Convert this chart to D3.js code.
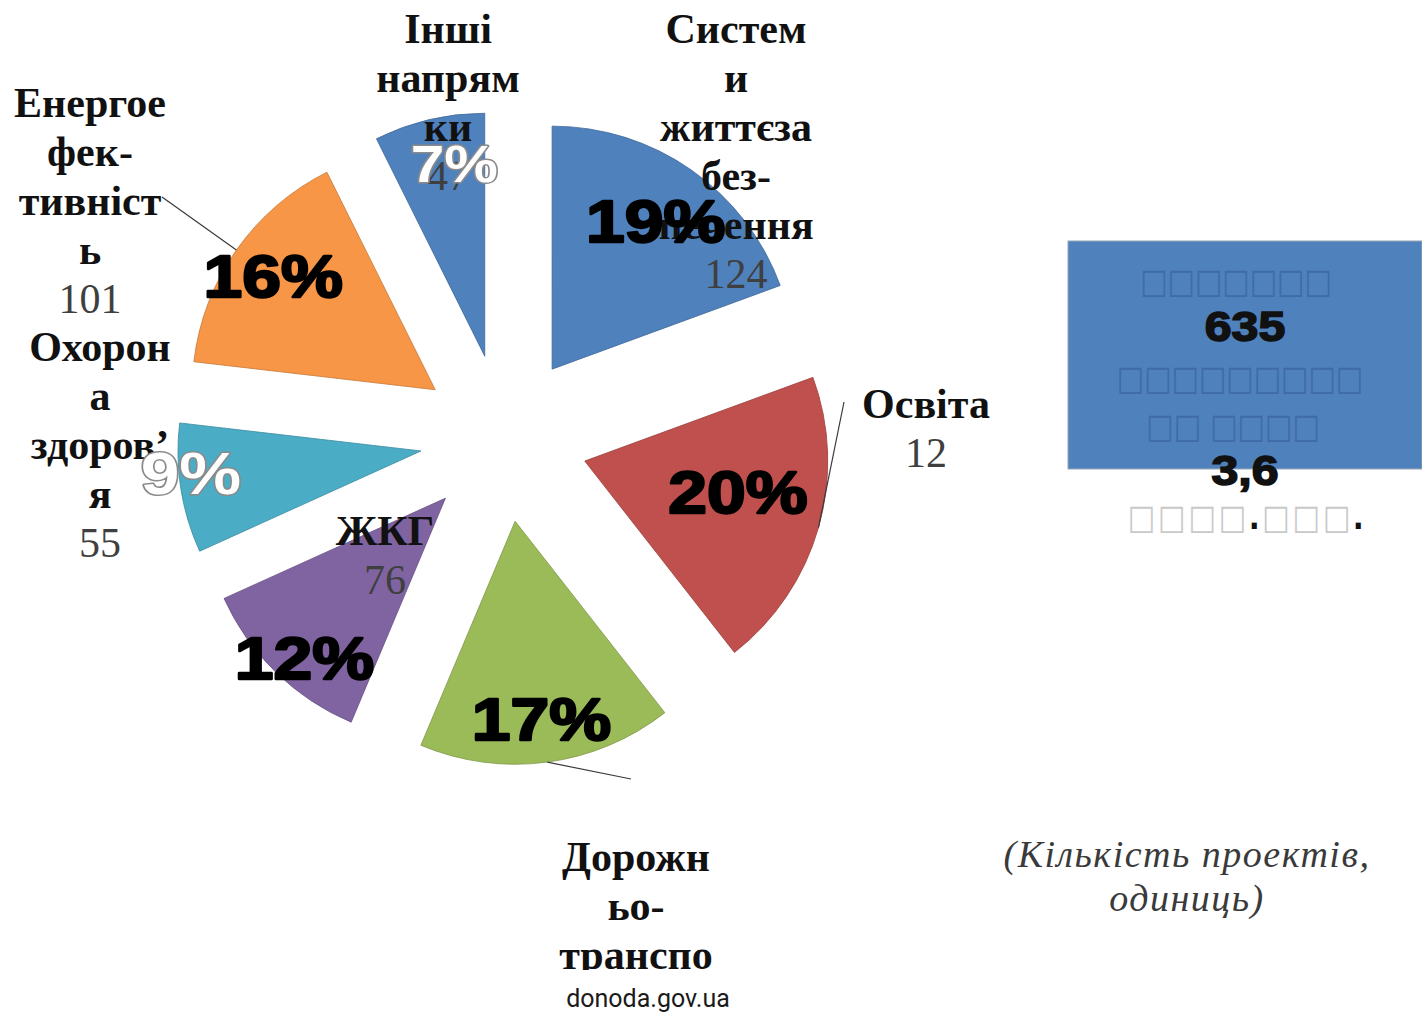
<!DOCTYPE html>
<html>
<head>
<meta charset="utf-8">
<script src="https://cdn.jsdelivr.net/npm/d3@7"></script>
<style>
  html, body { margin: 0; padding: 0; background: #fff; }
  svg { display: block; }
</style>
</head>
<body>
<svg id="chart" width="1422" height="1016"></svg>
<script>
// ---------------- DATA ----------------
const categories = ["Системи життєзабезпечення", "Освіта", "Дорожньо-транспортна", "ЖКГ", "Охорона здоров’я", "Енергоефективність", "Інші напрямки"];
const values = [124, 128, 108, 76, 55, 101, 47];
// category labels as they are wrapped (and truncated) in the source picture
const labelLines = [
  ["Систем", "и", "життєза", "без-", "печення"],
  ["Освіта"],
  ["Дорожн", "ьо-", "транспо"],
  ["ЖКГ"],
  ["Охорон", "а", "здоров’", "я"],
  ["Енергое", "фек-", "тивніст", "ь"],
  ["Інші", "напрям", "ки"]
];
// value texts as shown (the Освіта value is cut to "12" in the source)
const valueLabels = ["124", "12", "", "76", "55", "101", "47"];
const colors = ["#4f81bd", "#c0504d", "#9bbb59", "#8064a2", "#4bacc6", "#f79646", "#4f81bd"];
const boxTofu = ["□□□□□□□", "□□□□□□□□□", "□□ □□□□", "□□□□", "□□□"];
const totalProjects = "635";
const totalSum = "3,6";
const noteLines = ["(Кількість проектів,", "одиниць)"];
const sourceText = "donoda.gov.ua";

// ---------------- LAYOUT ----------------
const cx = 504, cy = 438, R = 243, explode = 84;
const lineH = 49;
const labelPos = [
  {x: 736, y: 43}, {x: 926, y: 418}, {x: 636, y: 871}, {x: 385, y: 545},
  {x: 100, y: 361}, {x: 90, y: 117}, {x: 448, y: 43}
];
const pctRadius = [265, 240, 283, 297, 315, 282, 279];
const pctAngleAdj = [0, -3, 0, -2, 2.5, 0, 3]; // degrees
const pctSize = [60, 60, 60, 60, 60, 60, 52];
const pctFill = ["#000", "#000", "#000", "#000", "#fff", "#000", "#fff"];
const leaderEnds = {1: [844, 402], 2: [631, 779], 5: [162, 197]};

const svg = d3.select("#chart");
const rad = a => a * Math.PI / 180;
const polar = (a, r) => [Math.sin(a) * r, -Math.cos(a) * r];

const pie = d3.pie().sort(null).value(d => d)(values);
const arc = d3.arc().innerRadius(0).outerRadius(R);
const total = d3.sum(values);
const fmtPct = d3.format(".0%");

const defs = svg.append("defs");
defs.append("clipPath").attr("id", "plotClip")
  .append("rect").attr("x", 0).attr("y", 0).attr("width", 1422).attr("height", 970);

// slices
const apex = pie.map(p => {
  const mid = (p.startAngle + p.endAngle) / 2;
  const [ex, ey] = polar(mid, explode);
  return [cx + ex, cy + ey];
});

svg.append("g").selectAll("path").data(pie).join("path")
  .attr("d", arc)
  .attr("transform", (p, i) => `translate(${apex[i][0]},${apex[i][1]})`)
  .attr("fill", (p, i) => colors[i])
  .attr("stroke", (p, i) => d3.color(colors[i]).darker(0.6))
  .attr("stroke-width", 0.8);

// clip for ЖКГ label: left of the slice's start edge
(function () {
  const i = 3, p = pie[i];
  const dir = polar(p.startAngle, 1);
  const a = apex[i];
  const p1 = [a[0] - dir[0] * 1500, a[1] - dir[1] * 1500];
  const p2 = [a[0] + dir[0] * 1500, a[1] + dir[1] * 1500];
  defs.append("clipPath").attr("id", "zkgClip").append("polygon")
    .attr("points", [p1, p2, [-3000, p2[1]], [-3000, p1[1]]].map(q => q.join(",")).join(" "));
})();

// leader lines
const leaders = svg.append("g");
Object.keys(leaderEnds).forEach(k => {
  const i = +k, p = pie[i];
  const mid = (p.startAngle + p.endAngle) / 2;
  const [sx, sy] = polar(mid, R);
  leaders.append("line")
    .attr("x1", apex[i][0] + sx).attr("y1", apex[i][1] + sy)
    .attr("x2", leaderEnds[k][0]).attr("y2", leaderEnds[k][1])
    .attr("stroke", "#3a3a3a").attr("stroke-width", 1.2);
});

// category labels
const labG = svg.append("g").attr("clip-path", "url(#plotClip)");
labelLines.forEach((lines, i) => {
  const g = labG.append("g");
  if (i === 3) g.attr("clip-path", "url(#zkgClip)");
  const t = g.append("text")
    .attr("text-anchor", "middle")
    .attr("font-family", "'Liberation Serif', 'Times New Roman', serif");
  lines.forEach((ln, j) => {
    t.append("tspan").attr("x", labelPos[i].x).attr("y", labelPos[i].y + j * lineH)
      .attr("font-weight", "bold").attr("font-size", 42).attr("fill", "#111").text(ln);
  });
  if (valueLabels[i]) {
    t.append("tspan").attr("x", labelPos[i].x).attr("y", labelPos[i].y + lines.length * lineH)
      .attr("font-size", 42).attr("fill", "#3f3f3f").text(valueLabels[i]);
  }
});

// percentage labels
const pctG = svg.append("g");
pie.forEach((p, i) => {
  const mid = (p.startAngle + p.endAngle) / 2 + rad(pctAngleAdj[i]);
  const [px, py] = polar(mid, pctRadius[i]);
  const white = pctFill[i] === "#fff";
  pctG.append("text")
    .attr("transform", `translate(${cx + px},${cy + py + pctSize[i] * 0.35}) scale(1.16,1)`)
    .attr("text-anchor", "middle")
    .attr("font-family", "'Liberation Sans', Arial, sans-serif")
    .attr("font-weight", "bold")
    .attr("font-size", pctSize[i])
    .attr("fill", pctFill[i])
    .attr("stroke", white ? "#8a8a8a" : "#000")
    .attr("stroke-width", white ? 3 : 2.4)
    .attr("stroke-linejoin", "round")
    .attr("paint-order", white ? "stroke" : "normal")
    .text(fmtPct(p.value / total));
});

// summary box
const bx = 1068, by = 241, bw = 354, bh = 228, tcx = 1236;
svg.append("rect").attr("x", bx).attr("y", by).attr("width", bw).attr("height", bh)
  .attr("fill", "#4f81bd").attr("stroke", "#9aa6b6").attr("stroke-width", 1);

const tofuText = (x, y, col, txt, ls) => svg.append("text")
  .attr("transform", `translate(${x},${y}) scale(1,1.2)`)
  .attr("text-anchor", "middle")
  .attr("font-family", "'DejaVu Sans', sans-serif")
  .attr("font-size", 29).attr("letter-spacing", ls || 0).attr("fill", col).text(txt);
const heavy = sel => sel.attr("font-family", "'Liberation Sans', Arial, sans-serif")
  .attr("font-weight", "bold").attr("font-size", 42).attr("fill", "#111")
  .attr("stroke", "#111").attr("stroke-width", 1.6);

const boxBase = [293, 341, 390, 438, 485, 529];
tofuText(tcx, boxBase[0], "#3f6ca6", boxTofu[0]);
heavy(svg.append("text").attr("transform", `translate(${1245},${boxBase[1]}) scale(1.15,1)`).attr("text-anchor", "middle")).text(totalProjects);
tofuText(1240, boxBase[2], "#3f6ca6", boxTofu[1]);
tofuText(1233, boxBase[3], "#3f6ca6", boxTofu[2]);
heavy(svg.append("text").attr("transform", `translate(${1245},${boxBase[4]}) scale(1.15,1)`).attr("text-anchor", "middle")).text(totalSum);

const last = svg.append("text").attr("transform", `translate(${1247},${boxBase[5]}) scale(1,1.2)`)
  .attr("text-anchor", "middle").attr("letter-spacing", 3);
const tofuSpan = (txt) => last.append("tspan").attr("font-family", "'DejaVu Sans', sans-serif")
  .attr("font-size", 29).attr("fill", "#c9c9c9").text(txt);
const dotSpan = () => last.append("tspan").attr("font-family", "'Liberation Sans', Arial, sans-serif")
  .attr("font-weight", "bold").attr("font-size", 36).attr("fill", "#111").text(".");
tofuSpan(boxTofu[3]); dotSpan(); tofuSpan(boxTofu[4]); dotSpan();

// note
const note = svg.append("text").attr("text-anchor", "middle")
  .attr("font-family", "'Liberation Serif', 'Times New Roman', serif")
  .attr("font-style", "italic").attr("font-size", 38).attr("fill", "#3a3a3a")
  .attr("letter-spacing", 1.5);
noteLines.forEach((ln, j) => note.append("tspan").attr("x", 1187).attr("y", 867 + j * 44).text(ln));

// source
svg.append("text").attr("x", 648).attr("y", 1007).attr("text-anchor", "middle")
  .attr("font-family", "Roboto, 'Noto Sans', sans-serif").attr("font-size", 25)
  .attr("fill", "#1a1a1a").text(sourceText);
</script>
</body>
</html>
